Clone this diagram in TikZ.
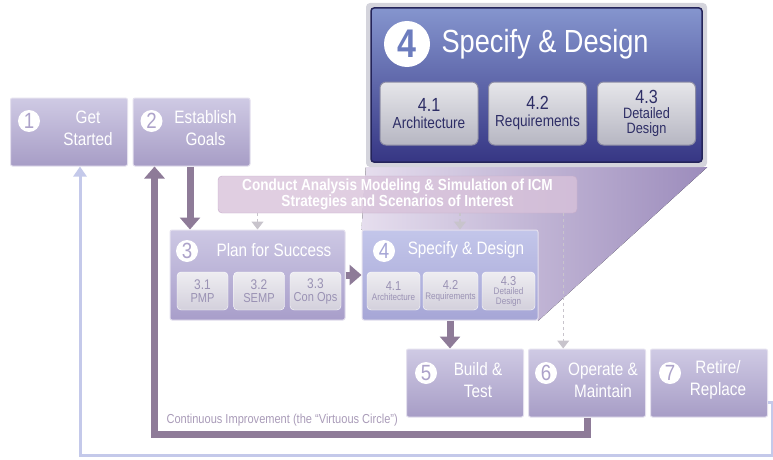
\documentclass[tikz,border=0pt]{standalone}
\usepackage{fontspec}
\setmainfont{Liberation Sans}[FakeStretch=0.85]
\usetikzlibrary{positioning,arrows.meta,backgrounds}
\definecolor{stepTop}{HTML}{CFCAE4}
\definecolor{stepBot}{HTML}{A79DC6}
\definecolor{stepRim}{HTML}{E4E0EE}
\definecolor{stepNum}{HTML}{ADA3CA}
\definecolor{planTop}{HTML}{CDC8E4}
\definecolor{planBot}{HTML}{A89ECA}
\definecolor{specTop}{HTML}{C3C6EA}
\definecolor{specBot}{HTML}{A6A6D6}
\definecolor{subTop}{HTML}{EEEDF1}
\definecolor{subBot}{HTML}{D3D0DC}
\definecolor{subText}{HTML}{9A92B4}
\definecolor{bigTop}{HTML}{8595CE}
\definecolor{bigBot}{HTML}{363684}
\definecolor{bigRim}{HTML}{24245A}
\definecolor{frameGray}{HTML}{D4D4DC}
\definecolor{bigNum}{HTML}{6C7CBE}
\definecolor{bigsubTop}{HTML}{E6E6EA}
\definecolor{bigsubBot}{HTML}{B6B6C2}
\definecolor{bigsubRim}{HTML}{8C8CA4}
\definecolor{bigsubText}{HTML}{2E2E66}
\definecolor{flowPurple}{HTML}{8E7B98}
\definecolor{feedGray}{HTML}{C8C4CC}
\definecolor{backBlue}{HTML}{C4C9EA}
\definecolor{conductFill}{HTML}{D8C2DA}
\definecolor{conductRim}{HTML}{C6ADCA}
\definecolor{projLight}{HTML}{E6DEEE}
\definecolor{projDark}{HTML}{9C8CBC}
\definecolor{noteText}{HTML}{A99BB8}
\begin{document}
\begin{tikzpicture}[x=1pt, y=-1pt, node distance=122pt,
    stepbox/.style={rectangle, rounded corners=2pt, minimum width=117pt, minimum height=68pt, top color=stepTop, bottom color=stepBot, draw=stepRim, line width=1pt},
    steptext/.style={text=white, align=center, inner sep=1pt, font=\fontsize{18}{22}\selectfont},
    numdot/.style={circle, fill=white, inner sep=0pt, minimum size=22pt, text=stepNum, font=\fontsize{22}{22}\selectfont},
    phasebox/.style={rectangle, rounded corners=2pt, minimum width=175pt, minimum height=90pt, draw=stepRim, line width=1pt},
    subbox/.style={rectangle, rounded corners=4pt, minimum height=38pt, inner sep=1pt, top color=subTop, bottom color=subBot, draw=white, text=subText, align=center},
    bigsub/.style={rectangle, rounded corners=6pt, minimum width=98pt, minimum height=63pt, inner sep=1pt, top color=bigsubTop, bottom color=bigsubBot, draw=bigsubRim, line width=1pt, text=bigsubText, align=center, font=\fontsize{16}{17}\selectfont},
    flow/.style={-{Triangle[width=20pt,length=12pt]}, line width=7pt, draw=flowPurple},
    feed/.style={dashed, line width=1.2pt, draw=feedGray, -{Triangle[width=12pt,length=8pt]}},
    back/.style={line width=3pt, draw=backBlue, -{Triangle[width=13pt,length=10pt]}}
  ]
  \useasboundingbox (0,0) rectangle (773,460);

  % life-cycle steps
  \node [stepbox] (start) at (69,132) {};
  \node [stepbox, right of=start, node distance=122.5pt] (goals) {};
  \node [stepbox] (build) at (465,383) {};
  \node [stepbox, right of=build] (operate) {};
  \node [stepbox, right of=operate] (retire) {};

  % return path to the start
  \coordinate (rim) at (772,455);
  \draw [back] ([yshift=-19pt]retire.east) -| (rim) -| ([xshift=11pt]start.south);

  % phases 3 and 4
  \node [phasebox, top color=planTop, bottom color=planBot] (plan) at (257.5,275) {};
  \node [phasebox, top color=specTop, bottom color=specBot, minimum width=176pt] (spec) at (450,275) {};

  % enlarged view of phase 4
  \node [rectangle, rounded corners=4pt, minimum width=341pt, minimum height=164pt, fill=frameGray] (bigframe) at (536.5,85) {};
  \begin{pgfonlayer}{background}
    \fill [left color=projLight, right color=projDark] (bigframe.south west) -- (bigframe.south east) -- (spec.south east) -- (spec.north west) -- cycle;
  \end{pgfonlayer}
  \node [rectangle, rounded corners=3pt, minimum width=331pt, minimum height=154pt, top color=bigTop, bottom color=bigBot, draw=bigRim, line width=1.5pt] (bigspec) at (536.5,85) {};
  \node [numdot, minimum size=46pt, text=bigNum, font=\bfseries\fontsize{40}{40}\selectfont] (bigdot) at (407,44) {4};
  \node [text=white, anchor=west, font=\fontsize{32}{36}\selectfont] (bigtitle) at (438,44) {Specify \& Design};
  \node [bigsub] (bigarch) at (429,113.5) {{\fontsize{19}{19}\selectfont 4.1}\\Architecture};
  \node [bigsub] (bigreq) at (537.5,113.5) {{\fontsize{19}{19}\selectfont 4.2}\\Requirements};
  \node [bigsub, font=\fontsize{15}{15}\selectfont] (bigdes) at (646.5,113.5) {{\fontsize{19}{17}\selectfont 4.3}\\Detailed\\Design};

  % analysis band
  \node [rectangle, rounded corners=4pt, minimum width=359pt, minimum height=37pt, inner sep=1pt, fill=conductFill, fill opacity=0.8, text opacity=1, draw=conductRim, text=white, align=center, font=\bfseries\fontsize{16}{16}\selectfont] (conduct) at (397.5,194.5) {Conduct Analysis Modeling \& Simulation of ICM\\Strategies and Scenarios of Interest};

  % step labels
  \node [numdot] (dot1) at ([xshift=19pt,yshift=11pt]start.west) {1};
  \node [steptext] (startlbl) at ([xshift=19pt,yshift=4pt]start.center) {Get\\Started};
  \node [numdot] (dot2) at ([xshift=19pt,yshift=11pt]goals.west) {2};
  \node [steptext] (goalslbl) at ([xshift=14pt,yshift=4pt]goals.center) {Establish\\Goals};
  \node [numdot] (dot5) at ([xshift=20pt,yshift=10pt]build.west) {5};
  \node [steptext] (buildlbl) at ([xshift=13pt,yshift=3pt]build.center) {Build \&\\Test};
  \node [numdot] (dot6) at ([xshift=18pt,yshift=10pt]operate.west) {6};
  \node [steptext] (operatelbl) at ([xshift=16pt,yshift=3pt]operate.center) {Operate \&\\Maintain};
  \node [numdot] (dot7) at ([xshift=20pt,yshift=10pt]retire.west) {7};
  \node [steptext] (retirelbl) at ([xshift=9pt,yshift=3pt]retire.center) {Retire/\\Replace};

  \node [numdot] (dot3) at (187,251) {3};
  \node [text=white, font=\fontsize{18}{20}\selectfont] (plantitle) at (274,250) {Plan for Success};
  \node [subbox, minimum width=51pt, font=\fontsize{13}{13}\selectfont] (pmp) at (202.5,291) {{\fontsize{14}{13}\selectfont 3.1}\\PMP};
  \node [subbox, minimum width=51pt, font=\fontsize{13}{13}\selectfont] (semp) at (259,291) {{\fontsize{14}{13}\selectfont 3.2}\\SEMP};
  \node [subbox, minimum width=51pt, font=\fontsize{13}{13}\selectfont] (conops) at (315.5,291) {{\fontsize{14}{13}\selectfont 3.3}\\Con Ops};

  \node [numdot, text=specBot] (dot4) at (384,251) {4};
  \node [text=white, font=\fontsize{18}{20}\selectfont] (spectitle) at (466,250) {Specify \& Design};
  \node [subbox, minimum width=53pt, font=\fontsize{9.5}{10}\selectfont] (arch) at (393.5,291) {{\fontsize{13}{12}\selectfont 4.1}\\Architecture};
  \node [subbox, minimum width=55pt, font=\fontsize{9.5}{10}\selectfont] (req) at (450.5,291) {{\fontsize{13}{12}\selectfont 4.2}\\Requirements};
  \node [subbox, minimum width=53pt, font=\fontsize{9.5}{9.5}\selectfont] (des) at (508.5,291) {{\fontsize{13}{11}\selectfont 4.3}\\Detailed\\Design};

  % main flow
  \draw [flow] (goals.south -| 190,0) -- (plan.north -| 190,0);
  \draw [flow] (plan.east) -- (spec.west);
  \draw [flow] (spec.south) -- (spec.south |- build.north);
  \draw [flow] (operate.south) -- ++(0,17) -| ([xshift=22pt]goals.south west);
  \node [anchor=west, text=noteText, font=\fontsize{13}{14}\selectfont] (note) at (163,420) {Continuous Improvement (the “Virtuous Circle”)};

  % analysis feeds
  \draw [feed] (conduct.south -| plan.north) -- (plan.north);
  \draw [feed] ([xshift=10pt]conduct.south -| spec.north) -- ([xshift=10pt]spec.north);
  \draw [feed] ([xshift=-14pt]conduct.south east) -- ([xshift=-14pt]conduct.south east |- operate.north);
\end{tikzpicture}
\end{document}
